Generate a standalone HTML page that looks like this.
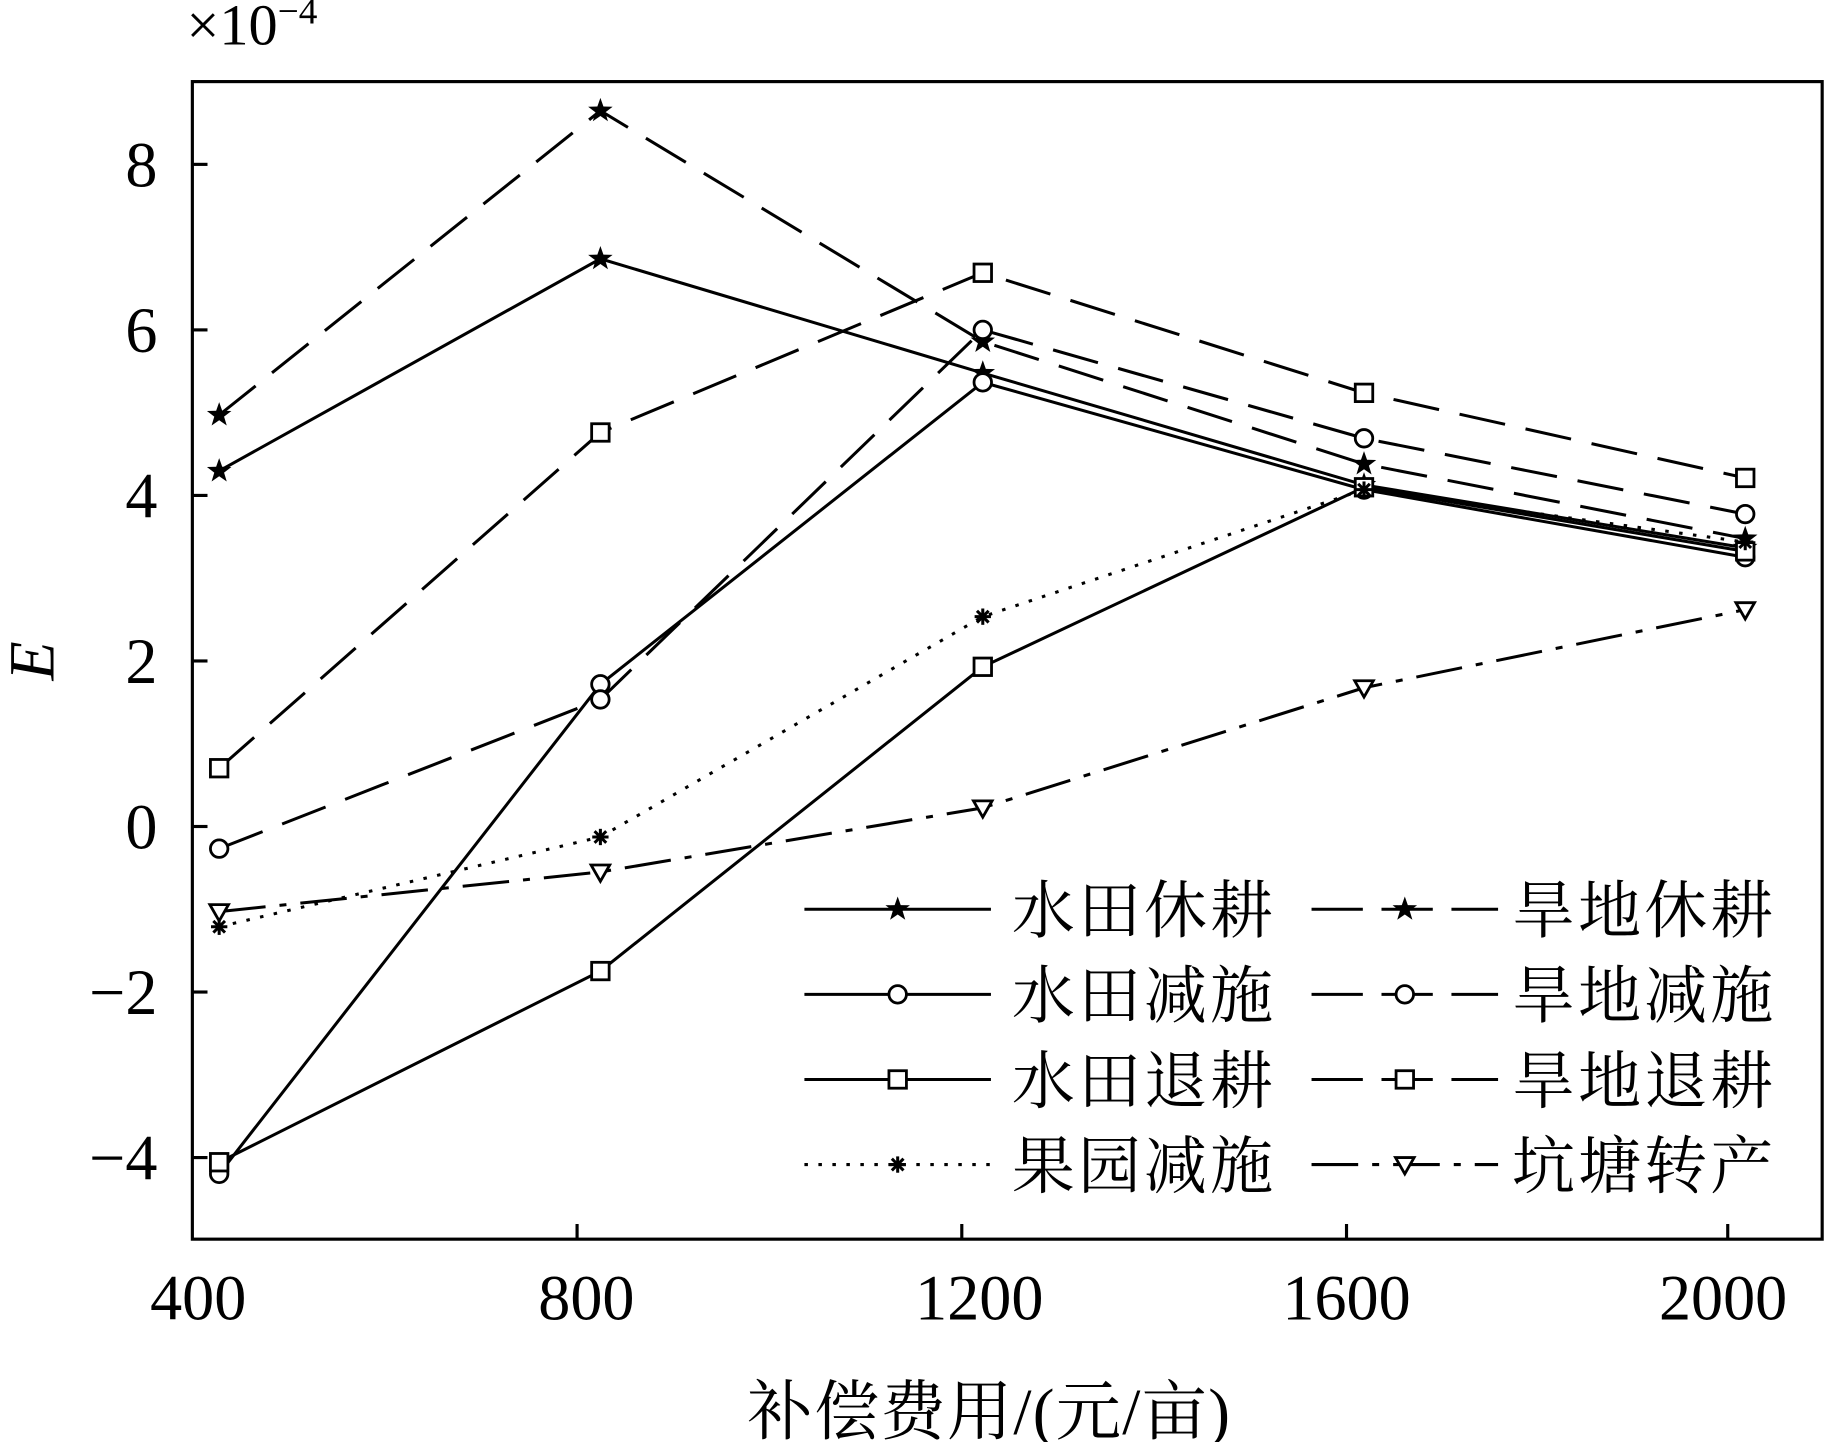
<!DOCTYPE html>
<html><head><meta charset="utf-8"><style>html,body{margin:0;padding:0;background:#fff}svg{display:block}</style></head>
<body>
<svg width="1828" height="1442" viewBox="0 0 1568 1237" preserveAspectRatio="none" xmlns="http://www.w3.org/2000/svg" font-family="'Liberation Serif','Noto Serif CJK SC',serif">
<defs>
<g id="star"><polygon points="0,-11 2.6,-3.6 10.5,-3.4 4.2,1.4 6.5,9 0,4.5 -6.5,9 -4.2,1.4 -10.5,-3.4 -2.6,-3.6" fill="#000"/></g>
<g id="circ"><circle r="7.5" fill="#fff" stroke="#000" stroke-width="2.4"/></g>
<g id="sq"><rect x="-7.5" y="-7.5" width="15" height="15" fill="#fff" stroke="#000" stroke-width="2.4"/></g>
<g id="ast"><g stroke="#000" stroke-width="2.6"><line x1="-7" y1="0" x2="7" y2="0"/><line x1="0" y1="-7" x2="0" y2="7"/><line x1="-5" y1="-5" x2="5" y2="5"/><line x1="-5" y1="5" x2="5" y2="-5"/></g></g>
<g id="tri"><polygon points="-8,-6 8,-6 0,8" fill="#fff" stroke="#000" stroke-width="2.4"/></g>
</defs>
<rect x="165" y="70" width="1398" height="993" fill="none" stroke="#000" stroke-width="2.7"/>
<g stroke="#000" stroke-width="2.7">
<line x1="165" y1="141" x2="178" y2="141"/><line x1="165" y1="283" x2="178" y2="283"/><line x1="165" y1="425" x2="178" y2="425"/><line x1="165" y1="567" x2="178" y2="567"/><line x1="165" y1="709" x2="178" y2="709"/><line x1="165" y1="851" x2="178" y2="851"/><line x1="165" y1="993" x2="178" y2="993"/>
<line x1="495" y1="1063" x2="495" y2="1050"/><line x1="825" y1="1063" x2="825" y2="1050"/><line x1="1155" y1="1063" x2="1155" y2="1050"/><line x1="1482" y1="1063" x2="1482" y2="1050"/>
</g>
<g font-size="55" text-anchor="end">
<text x="135" y="160">8</text><text x="135" y="302">6</text><text x="135" y="444">4</text><text x="135" y="586">2</text><text x="135" y="728">0</text><text x="135" y="870">−2</text><text x="135" y="1012">−4</text>
</g>
<g font-size="55" text-anchor="middle">
<text x="170" y="1132">400</text><text x="503" y="1132">800</text><text x="840" y="1132">1200</text><text x="1155" y="1132">1600</text><text x="1478" y="1132">2000</text>
</g>
<text x="160" y="38" font-size="50">×10<tspan font-size="32" dy="-18">−4</tspan></text>
<text transform="translate(46,567) rotate(-90)" font-size="55" font-style="italic" text-anchor="middle">E</text>
<text x="848" y="1230" font-size="56" text-anchor="middle" textLength="414">补偿费用/(元/亩)</text>
<g fill="none" stroke="#000" stroke-width="2.6">
<polyline points="188,404 515,222 843,320 1170,416 1497,470"/>
<polyline points="188,1007 515,587 843,328 1170,420 1497,478"/>
<polyline points="188,997 515,833 843,572 1170,418 1497,473"/>
<polyline points="188,356 515,95 843,293 1170,398 1497,462" stroke-dasharray="40,18"/>
<polyline points="188,728 515,600 843,283 1170,376 1497,441" stroke-dasharray="40,18"/>
<polyline points="188,659 515,371 843,234 1170,337 1497,410" stroke-dasharray="40,18"/>
<polyline points="188,795 515,718 843,529 1170,420 1497,465" stroke-dasharray="3,9"/>
<polyline points="188,782 515,748 843,693 1170,590 1497,523" stroke-dasharray="40,12,6,12"/>
</g>
<g>
<use href="#star" x="188" y="404"/><use href="#star" x="515" y="222"/><use href="#star" x="843" y="320"/><use href="#star" x="1170" y="416"/><use href="#star" x="1497" y="470"/>
<use href="#star" x="188" y="356"/><use href="#star" x="515" y="95"/><use href="#star" x="843" y="293"/><use href="#star" x="1170" y="398"/><use href="#star" x="1497" y="462"/>
<use href="#circ" x="188" y="1007"/><use href="#circ" x="515" y="587"/><use href="#circ" x="843" y="328"/><use href="#circ" x="1170" y="420"/><use href="#circ" x="1497" y="478"/>
<use href="#circ" x="188" y="728"/><use href="#circ" x="515" y="600"/><use href="#circ" x="843" y="283"/><use href="#circ" x="1170" y="376"/><use href="#circ" x="1497" y="441"/>
<use href="#sq" x="188" y="997"/><use href="#sq" x="515" y="833"/><use href="#sq" x="843" y="572"/><use href="#sq" x="1170" y="418"/><use href="#sq" x="1497" y="473"/>
<use href="#sq" x="188" y="659"/><use href="#sq" x="515" y="371"/><use href="#sq" x="843" y="234"/><use href="#sq" x="1170" y="337"/><use href="#sq" x="1497" y="410"/>
<use href="#ast" x="188" y="795"/><use href="#ast" x="515" y="718"/><use href="#ast" x="843" y="529"/><use href="#ast" x="1170" y="420"/><use href="#ast" x="1497" y="465"/>
<use href="#tri" x="188" y="782"/><use href="#tri" x="515" y="748"/><use href="#tri" x="843" y="693"/><use href="#tri" x="1170" y="590"/><use href="#tri" x="1497" y="523"/>
</g>
<rect x="680" y="740" width="870" height="300" fill="#fff"/>
<g fill="none" stroke="#000" stroke-width="2.6">
<line x1="690" y1="780" x2="850" y2="780"/><line x1="690" y1="853" x2="850" y2="853"/><line x1="690" y1="926" x2="850" y2="926"/><line x1="690" y1="999" x2="850" y2="999" stroke-dasharray="3,9"/>
<line x1="1125" y1="780" x2="1285" y2="780" stroke-dasharray="44,16"/><line x1="1125" y1="853" x2="1285" y2="853" stroke-dasharray="44,16"/><line x1="1125" y1="926" x2="1285" y2="926" stroke-dasharray="44,16"/><line x1="1125" y1="999" x2="1285" y2="999" stroke-dasharray="40,12,6,12"/>
</g>
<use href="#star" x="770" y="780"/><use href="#circ" x="770" y="853"/><use href="#sq" x="770" y="926"/><use href="#ast" x="770" y="999"/>
<use href="#star" x="1205" y="780"/><use href="#circ" x="1205" y="853"/><use href="#sq" x="1205" y="926"/><use href="#tri" x="1205" y="999"/>
<g font-size="54">
<text x="868" y="800" textLength="224">水田休耕</text><text x="868" y="873" textLength="224">水田减施</text><text x="868" y="946" textLength="224">水田退耕</text><text x="868" y="1019" textLength="224">果园减施</text>
<text x="1297" y="800" textLength="224">旱地休耕</text><text x="1297" y="873" textLength="224">旱地减施</text><text x="1297" y="946" textLength="224">旱地退耕</text><text x="1297" y="1019" textLength="224">坑塘转产</text>
</g>
</svg>
</body></html>
